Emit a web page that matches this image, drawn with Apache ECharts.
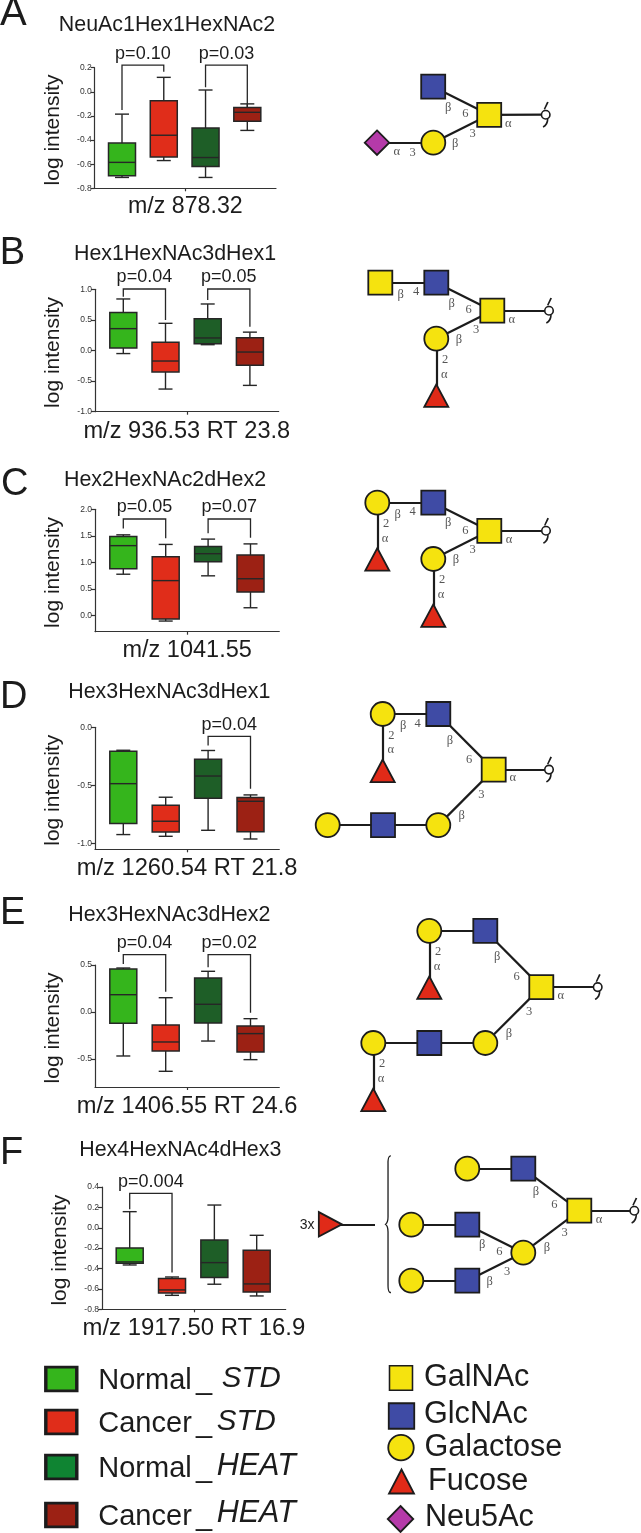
<!DOCTYPE html>
<html>
<head>
<meta charset="utf-8">
<style>html,body{margin:0;padding:0;background:#fff}#c{width:641px;height:1533px}</style>
<script src="https://cdn.jsdelivr.net/npm/echarts@6/dist/echarts.min.js"></script>
</head>
<body>
<div id="c"></div>
<script>
// ---------- values ----------
const groups = ['Normal_STD', 'Cancer_STD', 'Normal_HEAT', 'Cancer_HEAT'];
const panelLetters = ['A', 'B', 'C', 'D', 'E', 'F'];
const panelTitles = ['NeuAc1Hex1HexNAc2', 'Hex1HexNAc3dHex1', 'Hex2HexNAc2dHex2', 'Hex3HexNAc3dHex1', 'Hex3HexNAc3dHex2', 'Hex4HexNAc4dHex3'];
const panelXNames = ['m/z 878.32', 'm/z 936.53 RT 23.8', 'm/z 1041.55', 'm/z 1260.54 RT 21.8', 'm/z 1406.55 RT 24.6', 'm/z 1917.50 RT 16.9'];
const yAxisName = 'log intensity';

// box values: [low whisker, q1, median, q3, high whisker], one row per group
const boxesA = [[-0.71, -0.695, -0.585, -0.425, -0.185], [-0.57, -0.54, -0.36, -0.075, 0.12], [-0.71, -0.62, -0.545, -0.30, 0.015], [-0.32, -0.245, -0.17, -0.13, -0.10]];
const boxesB = [[-0.05, 0.04, 0.357, 0.62, 0.842], [-0.63, -0.35, -0.172, 0.134, 0.444], [0.095, 0.11, 0.205, 0.52, 0.76], [-0.57, -0.243, -0.025, 0.21, 0.30]];
const boxesC = [[0.78, 0.884, 1.317, 1.49, 1.52], [-0.10, -0.06, 0.66, 1.11, 1.34], [0.75, 1.015, 1.166, 1.30, 1.44], [0.15, 0.445, 0.695, 1.14, 1.35]];
const boxesD = [[-0.925, -0.83, -0.486, -0.207, -0.198], [-0.94, -0.902, -0.81, -0.672, -0.603], [-0.888, -0.612, -0.42, -0.276, -0.20], [-0.963, -0.90, -0.638, -0.606, -0.583]];
const boxesE = [[-0.468, -0.12, 0.184, 0.457, 0.468], [-0.631, -0.415, -0.319, -0.138, 0.152], [-0.309, -0.117, 0.082, 0.362, 0.433], [-0.507, -0.426, -0.23, -0.149, -0.071]];
const boxesF = [[-0.365, -0.349, -0.335, -0.198, 0.158], [-0.663, -0.64, -0.61, -0.499, -0.483], [-0.554, -0.489, -0.342, -0.12, 0.223], [-0.669, -0.63, -0.551, -0.221, -0.074]];

// significance brackets: [left group, right group, top, left foot, right foot, label]
const bracketsA = [[1, 2, 0.222, -0.15, 0.167, 'p=0.10'], [3, 4, 0.222, 0.037, -0.13, 'p=0.03']];
const bracketsB = [[1, 2, 1.005, 0.88, 0.5, 'p=0.04'], [3, 4, 1.005, 0.825, 0.39, 'p=0.05']];
const bracketsC = [[1, 2, 1.818, 1.64, 1.455, 'p=0.05'], [3, 4, 1.818, 1.55, 1.467, 'p=0.07']];
const bracketsD = [[3, 4, -0.078, -0.158, -0.529, 'p=0.04']];
const bracketsE = [[1, 2, 0.61, 0.51, 0.216, 'p=0.04'], [3, 4, 0.61, 0.475, -0.007, 'p=0.02']];
const bracketsF = [[1, 2, 0.338, 0.181, -0.44, 'p=0.004']];

// y ticks
const ticksA = [-0.8, -0.6, -0.4, -0.2, 0, 0.2];
const ticksB = [-1, -0.5, 0, 0.5, 1];
const ticksC = [0, 0.5, 1, 1.5, 2];
const ticksD = [-1, -0.5, 0];
const ticksE = [-0.5, 0, 0.5];
const ticksF = [-0.8, -0.6, -0.4, -0.2, 0, 0.2, 0.4];

// glycan structures: nodes [kind, x, y], links [from, to], linkage labels [x, y, text]
const nodesA = [['glcnac', 433.2, 86.7], ['galnac', 489.2, 114.8], ['gal', 433.3, 142.7], ['neu', 377, 142.7], ['root', 545.7, 114.7]];
const linksA = [[0, 1], [2, 1], [3, 2], [1, 4]];
const textsA = [[448.3, 107.3, 'β'], [465.3, 114, '6'], [472.7, 133.3, '3'], [455.3, 143.7, 'β'], [508.3, 123.3, 'α'], [396.7, 151.7, 'α'], [412.7, 152.7, '3']];

const nodesB = [['galnac', 380.3, 282.7], ['glcnac', 436.3, 282.7], ['galnac', 492.3, 310.7], ['gal', 436.3, 338.7], ['fuc', 436.3, 395.7], ['root', 549, 310.7]];
const linksB = [[0, 1], [1, 2], [3, 2], [3, 4], [2, 5]];
const textsB = [[400.7, 294.3, 'β'], [416, 292, '4'], [451.7, 303.3, 'β'], [468.7, 310, '6'], [476, 330, '3'], [459, 340, 'β'], [511.7, 319.3, 'α'], [445, 359.3, '2'], [444.3, 374.7, 'α']];

const nodesC = [['gal', 377.3, 502.7], ['glcnac', 433.3, 502.7], ['galnac', 489.3, 530.8], ['gal', 433.3, 559], ['fuc', 377.3, 559.4], ['fuc', 433.3, 615.7], ['root', 546, 530.8]];
const linksC = [[0, 1], [1, 2], [3, 2], [0, 4], [3, 5], [2, 6]];
const textsC = [[397.7, 514.9, 'β'], [412.7, 511.6, '4'], [448.3, 523, 'β'], [465.3, 530.4, '6'], [472.7, 549.6, '3'], [456, 559.8, 'β'], [509, 539.4, 'α'], [386, 523.9, '2'], [385, 538.6, 'α'], [442, 579.4, '2'], [441, 594.5, 'α']];

const nodesD = [['gal', 382.7, 714], ['glcnac', 438.3, 714], ['galnac', 493.7, 769.6], ['fuc', 382.7, 770.8], ['gal', 327.7, 825.1], ['glcnac', 383, 825.1], ['gal', 438.3, 825.1], ['root', 549, 769.6]];
const linksD = [[0, 1], [1, 2], [0, 3], [4, 5], [5, 6], [6, 2], [2, 7]];
const textsD = [[403.3, 725.9, 'β'], [417.7, 723.5, '4'], [391.3, 735.3, '2'], [390.7, 749.6, 'α'], [450, 740.6, 'β'], [469, 759.4, '6'], [481.3, 794.5, '3'], [461.7, 816.1, 'β'], [512.7, 778.2, 'α']];

const nodesE = [['gal', 429.3, 930.8], ['glcnac', 485.3, 930.8], ['galnac', 541.3, 987.1], ['fuc', 429.3, 987.6], ['gal', 373.3, 1043], ['glcnac', 429.3, 1043], ['gal', 485.3, 1043], ['fuc', 373.3, 1099.8], ['root', 597.7, 987.1]];
const linksE = [[0, 1], [1, 2], [0, 3], [4, 5], [5, 6], [6, 2], [4, 7], [2, 8]];
const textsE = [[438, 951.6, '2'], [437, 966.7, 'α'], [497.3, 956.9, 'β'], [516.7, 976.5, '6'], [529, 1012, '3'], [509, 1034, 'β'], [560.7, 995.7, 'α'], [382, 1063.9, '2'], [381, 1078.6, 'α']];

const nodesF = [['gal', 467.3, 1168.7], ['glcnac', 523.3, 1168.7], ['galnac', 579.3, 1210.7], ['gal', 411.3, 1224.7], ['glcnac', 467.3, 1224.7], ['gal', 523.3, 1252.7], ['gal', 411.3, 1280.7], ['glcnac', 467.3, 1280.7], ['root', 634.3, 1210.7], ['fucRight', 330.3, 1224.3], ['end', 375, 1224.3], ['brace', 387.7, 1224.2]];
const linksF = [[0, 1], [1, 2], [3, 4], [4, 5], [6, 7], [7, 5], [5, 2], [2, 8], [9, 10]];
const textsF = [[536, 1192, 'β'], [554.3, 1204.3, '6'], [599, 1219.3, 'α'], [564.7, 1232.7, '3'], [547, 1248, 'β'], [482.3, 1245, 'β'], [499.3, 1252, '6'], [507, 1271.3, '3'], [489.7, 1281.3, 'β']];

// legend keys
const legendNames = [['Normal', 'STD'], ['Cancer', 'STD'], ['Normal', 'HEAT'], ['Cancer', 'HEAT']];
const glycanNames = ['GalNAc', 'GlcNAc', 'Galactose', 'Fucose', 'Neu5Ac'];

// ---------- layout and style ----------
const FONT = '"Liberation Sans", Arial, sans-serif';
const INK = '#1c1c1c';
const boxColors = ['#35B51C', '#E02D1A', '#1E5E27', '#9C2114'];
const swatchColors = ['#35B51C', '#E02D1A', '#0F8432', '#9C2114'];
const YEL = '#F5E30F', BLU = '#3F4BA5', RED = '#E02A18', PUR = '#B53AA9';

const panelLayout = [
  {l: 94.7, r: 276, top: 67.7, bottom: 188.3, first: 122, step: 41.77, yMin: -0.8, yMax: 0.2, nameGap: 18.7, nameSize: 23.2},
  {l: 95, r: 278.7, top: 289.3, bottom: 411.7, first: 123.3, step: 42.2, yMin: -1, yMax: 1, nameGap: 20, nameSize: 23.6},
  {l: 95, r: 279.3, top: 509.3, bottom: 631.7, first: 123.3, step: 42.4, yMin: -0.30, yMax: 2, nameGap: 19, nameSize: 23.5},
  {l: 95, r: 279.3, top: 727.3, bottom: 849.3, first: 123.3, step: 42.4, yMin: -1.052, yMax: 0, nameGap: 19, nameSize: 23.7},
  {l: 95, r: 279.3, top: 965, bottom: 1087, first: 123.3, step: 42.4, yMin: -0.798, yMax: 0.5, nameGap: 19.7, nameSize: 23.7},
  {l: 102, r: 285.7, top: 1187, bottom: 1309.3, first: 129.7, step: 42.33, yMin: -0.8, yMax: 0.4, nameGap: 19, nameSize: 23.9}
];
const titlePos = [[167, 25], [175, 254], [165, 480], [169.3, 691.7], [169.3, 915], [180.3, 1150]];
const letterPos = [[0, 28], [-0.3, 267], [1, 498], [0, 711], [0, 927], [0, 1166.7]];
const legendRowsY = [1379, 1422, 1467, 1515];
const legendTextBase = [[1391, 1389], [1434, 1432], [1479, 1476.7], [1526.7, 1524.3]];
const legendSuffixX = [221.7, 216.7, 216.7, 216.7];
const keyPos = [[401, 1378], [401.5, 1416], [401, 1447.7], [401.5, 1481.5], [400.5, 1519]];
const keyTextPos = [[424, 1387.7], [424, 1425], [424.5, 1458], [428, 1491.7], [425, 1528]];
const keyKinds = ['galnacKey', 'glcnacKey', 'galKey', 'fucKey', 'neuKey'];

const rootPath = 'path://M14 0 L19 2 L8 24 L4 22 Z M14 50 L18 50 C19 62 14 74 3 78 L1 74 C9 70 13 62 14 50 Z';
const bracePath = 'path://M20 0 C12 0 9 10 9 25 L9 185 C9 200 5 205 0 208 C5 211 9 216 9 231 L9 390 C9 405 12 415 20 415 L20 411 C14 411 13 403 13 390 L13 231 C13 218 10 211 5 208 C10 205 13 198 13 185 L13 25 C13 12 14 4 20 4 Z';

const stroke = {borderColor: INK, borderWidth: 1.8};
const kinds = {
  gal: {symbol: 'circle', symbolSize: 24, itemStyle: {color: YEL, ...stroke}},
  galnac: {symbol: 'rect', symbolSize: 24, itemStyle: {color: YEL, ...stroke}},
  glcnac: {symbol: 'rect', symbolSize: 24, itemStyle: {color: BLU, ...stroke}},
  fuc: {symbol: 'triangle', symbolSize: [24, 22.5], itemStyle: {color: RED, ...stroke}},
  fucRight: {symbol: 'triangle', symbolSize: [24.5, 23], symbolRotate: -90, itemStyle: {color: RED, ...stroke}},
  neu: {symbol: 'diamond', symbolSize: 24.5, itemStyle: {color: PUR, ...stroke}},
  end: {symbol: 'none', symbolSize: 1, itemStyle: {color: 'transparent'}},
  brace: {symbol: bracePath, symbolSize: [6.5, 138], itemStyle: {color: INK, borderWidth: 0}},
  rootCircle: {symbol: 'circle', symbolSize: 8.5, itemStyle: {color: '#fff', borderColor: INK, borderWidth: 1.6}},
  rootTicks: {symbol: rootPath, symbolSize: [6, 26], itemStyle: {color: INK, borderWidth: 0}},
  galnacKey: {symbol: 'rect', symbolSize: [23, 24.5], itemStyle: {color: YEL, borderColor: INK, borderWidth: 1.6}},
  glcnacKey: {symbol: 'rect', symbolSize: [25.5, 25.5], itemStyle: {color: BLU, borderColor: INK, borderWidth: 1.8}},
  galKey: {symbol: 'circle', symbolSize: [25.5, 25.5], itemStyle: {color: YEL, borderColor: INK, borderWidth: 1.8}},
  fucKey: {symbol: 'triangle', symbolSize: [25, 24], itemStyle: {color: RED, borderColor: INK, borderWidth: 1.8}},
  neuKey: {symbol: 'diamond', symbolSize: [25.5, 26], itemStyle: {color: PUR, borderColor: INK, borderWidth: 1.8}}
};

// ---------- option building ----------
const allBoxes = [boxesA, boxesB, boxesC, boxesD, boxesE, boxesF];
const allBrackets = [bracketsA, bracketsB, bracketsC, bracketsD, bracketsE, bracketsF];
const allTicks = [ticksA, ticksB, ticksC, ticksD, ticksE, ticksF];
const allGlycans = [[nodesA, linksA, textsA], [nodesB, linksB, textsB], [nodesC, linksC, textsC], [nodesD, linksD, textsD], [nodesE, linksE, textsE], [nodesF, linksF, textsF]];

const grids = [], xAxes = [], yAxes = [], series = [], titles = [];
const BOX_W = 27, CAP_W = 14, BOX_LINE = '#262626';

function renderBox(color) {
  return function (params, api) {
    const x = api.value(0);
    const p = [1, 2, 3, 4, 5].map(k => api.coord([x, api.value(k)]));
    const cx = p[0][0];
    const line = (x1, y1, x2, y2) => ({type: 'line', shape: {x1, y1, x2, y2}, style: {stroke: BOX_LINE, lineWidth: 1.4}});
    return {type: 'group', children: [
      line(cx, p[0][1], cx, p[4][1]),
      line(cx - CAP_W / 2, p[0][1], cx + CAP_W / 2, p[0][1]),
      line(cx - CAP_W / 2, p[4][1], cx + CAP_W / 2, p[4][1]),
      {type: 'rect', shape: {x: cx - BOX_W / 2, y: p[3][1], width: BOX_W, height: p[1][1] - p[3][1]},
        style: {fill: color, stroke: BOX_LINE, lineWidth: 1.5}},
      line(cx - BOX_W / 2, p[2][1], cx + BOX_W / 2, p[2][1])
    ]};
  };
}
function renderBracket(params, api) {
  const a = api.coord([api.value(0), api.value(2)]);
  const b = api.coord([api.value(1), api.value(2)]);
  const la = api.coord([api.value(0), api.value(3)]);
  const lb = api.coord([api.value(1), api.value(4)]);
  return {type: 'group', children: [
    {type: 'polyline', shape: {points: [la, a, b, lb]}, style: {stroke: BOX_LINE, lineWidth: 1.3, fill: 'none'}},
    {type: 'text', x: (a[0] + b[0]) / 2, y: a[1] - 11.5,
      style: {text: allBrackets[api.value(5)][params.dataIndex][5],
        fontSize: 18, fontFamily: FONT, fill: INK, align: 'center', verticalAlign: 'middle'}}
  ]};
}

panelLayout.forEach((L, i) => {
  const xMin = 1 - (L.first - L.l) / L.step;
  const xMax = 1 + (L.r - L.first) / L.step;
  grids.push({left: L.l, top: L.top, width: L.r - L.l, height: L.bottom - L.top});
  xAxes.push({
    type: 'value', gridIndex: i, min: xMin, max: xMax, splitLine: {show: false},
    axisLine: {onZero: false, lineStyle: {color: '#333', width: 1.2}},
    axisTick: {show: true, length: 3, customValues: [(xMin + xMax) / 2], lineStyle: {color: '#333', width: 1.2}},
    axisLabel: {show: false},
    name: panelXNames[i], nameLocation: 'middle', nameGap: L.nameGap,
    nameTextStyle: {fontSize: L.nameSize, fontFamily: FONT, color: INK, verticalAlign: 'middle'}
  });
  yAxes.push({
    type: 'value', gridIndex: i, min: L.yMin, max: L.yMax, splitLine: {show: false},
    axisLine: {onZero: false, lineStyle: {color: '#333', width: 1.2}},
    axisTick: {show: true, length: 4, customValues: allTicks[i], lineStyle: {color: '#333', width: 1.2}},
    axisLabel: {show: true, customValues: allTicks[i], margin: 3, fontSize: 8.5, fontFamily: FONT, color: '#333',
      formatter: v => Number(v).toFixed(1)},
    name: yAxisName, nameLocation: 'middle', nameGap: 41.5,
    nameTextStyle: {fontSize: 21, fontFamily: FONT, color: INK, verticalAlign: 'middle', padding: [0, 4, 0, 0]}
  });
  titles.push({text: panelTitles[i], left: titlePos[i][0], top: titlePos[i][1], padding: 0,
    textAlign: 'center', textVerticalAlign: 'middle',
    textStyle: {fontSize: 21.4, fontWeight: 'normal', fontFamily: FONT, color: INK}});
  groups.forEach((g, j) => {
    series.push({
      type: 'custom', name: g, xAxisIndex: i, yAxisIndex: i, clip: false,
      encode: {x: 0, y: [1, 2, 3, 4, 5]},
      data: [[j + 1].concat(allBoxes[i][j])],
      renderItem: renderBox(boxColors[j])
    });
  });
  series.push({
    type: 'custom', name: 'significance ' + panelLetters[i], xAxisIndex: i, yAxisIndex: i, clip: false,
    encode: {x: [0, 1], y: [2, 3, 4]},
    data: allBrackets[i].map(b => [b[0], b[1], b[2], b[3], b[4], i]),
    renderItem: renderBracket
  });
});

// hidden overlay grid: 1 unit = 1 pixel of the figure
const OV = panelLayout.length;
grids.push({left: 0, top: 0, width: 641, height: 1533});
xAxes.push({type: 'value', gridIndex: OV, min: 0, max: 641, show: false});
yAxes.push({type: 'value', gridIndex: OV, min: 0, max: 1533, inverse: true, show: false});

function nodeItem(kind, x, y) {
  return Object.assign({value: [x, y]}, kinds[kind]);
}
allGlycans.forEach(([nodes, links, texts], g) => {
  const data = [], remap = [];
  nodes.forEach(([k, x, y], n) => {
    if (k === 'root') {
      data.push(nodeItem('rootTicks', x, y));
      remap[n] = data.length;
      data.push(nodeItem('rootCircle', x, y));
    } else {
      remap[n] = data.length;
      data.push(nodeItem(k, x, y));
    }
  });
  series.push({
    type: 'graph', name: 'glycan ' + panelLetters[g], coordinateSystem: 'cartesian2d', xAxisIndex: OV, yAxisIndex: OV,
    layout: 'none', roam: false, silent: true, label: {show: false},
    lineStyle: {color: INK, width: 2.2, opacity: 1, curveness: 0},
    data, links: links.map(([a, b]) => ({source: remap[a], target: remap[b]}))
  });
  series.push({
    type: 'scatter', name: 'linkage ' + panelLetters[g], xAxisIndex: OV, yAxisIndex: OV, silent: true,
    symbolSize: 1, itemStyle: {color: 'transparent'}, z: 5,
    data: texts.map(t => [t[0], t[1], t[2]]),
    dimensions: ['x', 'y', {name: 't', type: 'ordinal'}],
    label: {show: true, position: 'inside', formatter: p => p.value[2], fontSize: 12.5, fontFamily: '"Liberation Serif", serif', color: '#2a2a2a'}
  });
});

// legend keys drawn through the same overlay
series.push({
  type: 'graph', name: 'group key', coordinateSystem: 'cartesian2d', xAxisIndex: OV, yAxisIndex: OV,
  layout: 'none', silent: true, label: {show: false},
  data: legendRowsY.map((y, i) => ({value: [61.3, y], symbol: 'rect', symbolSize: [31, 23.7],
    itemStyle: {color: swatchColors[i], borderColor: INK, borderWidth: 3}})),
  links: []
});
series.push({
  type: 'graph', name: 'glycan key', coordinateSystem: 'cartesian2d', xAxisIndex: OV, yAxisIndex: OV,
  layout: 'none', silent: true, label: {show: false},
  data: keyKinds.map((k, i) => nodeItem(k, keyPos[i][0], keyPos[i][1])),
  links: []
});

// free text
function txt(text, x, base, size, extra) {
  return {type: 'text', x, y: base - size * 0.345, silent: true,
    style: Object.assign({text, fontSize: size, fontFamily: FONT, fill: INK, verticalAlign: 'middle', align: 'left'}, extra || {})};
}
const graphics = [];
panelLetters.forEach((t, i) => graphics.push(txt(t, letterPos[i][0], letterPos[i][1], t === 'A' ? 40 : 38)));
graphics.push(txt('3x', 299.8, 1230, 14));
legendNames.forEach((n, i) => {
  graphics.push(txt(n[0], 98.3, legendTextBase[i][0], 29));
  graphics.push(txt('_', 196, legendTextBase[i][0], 29));
  graphics.push(txt(n[1], legendSuffixX[i], legendTextBase[i][1], i < 2 ? 29.5 : 30.5, {fontStyle: 'italic'}));
});
glycanNames.forEach((n, i) => graphics.push(txt(n, keyTextPos[i][0], keyTextPos[i][1], 30.6)));

const chart = echarts.init(document.getElementById('c'), null, {width: 641, height: 1533});
chart.setOption({
  animation: false, backgroundColor: '#fff',
  title: titles, grid: grids, xAxis: xAxes, yAxis: yAxes, series, graphic: graphics
});
</script>
</body>
</html>
